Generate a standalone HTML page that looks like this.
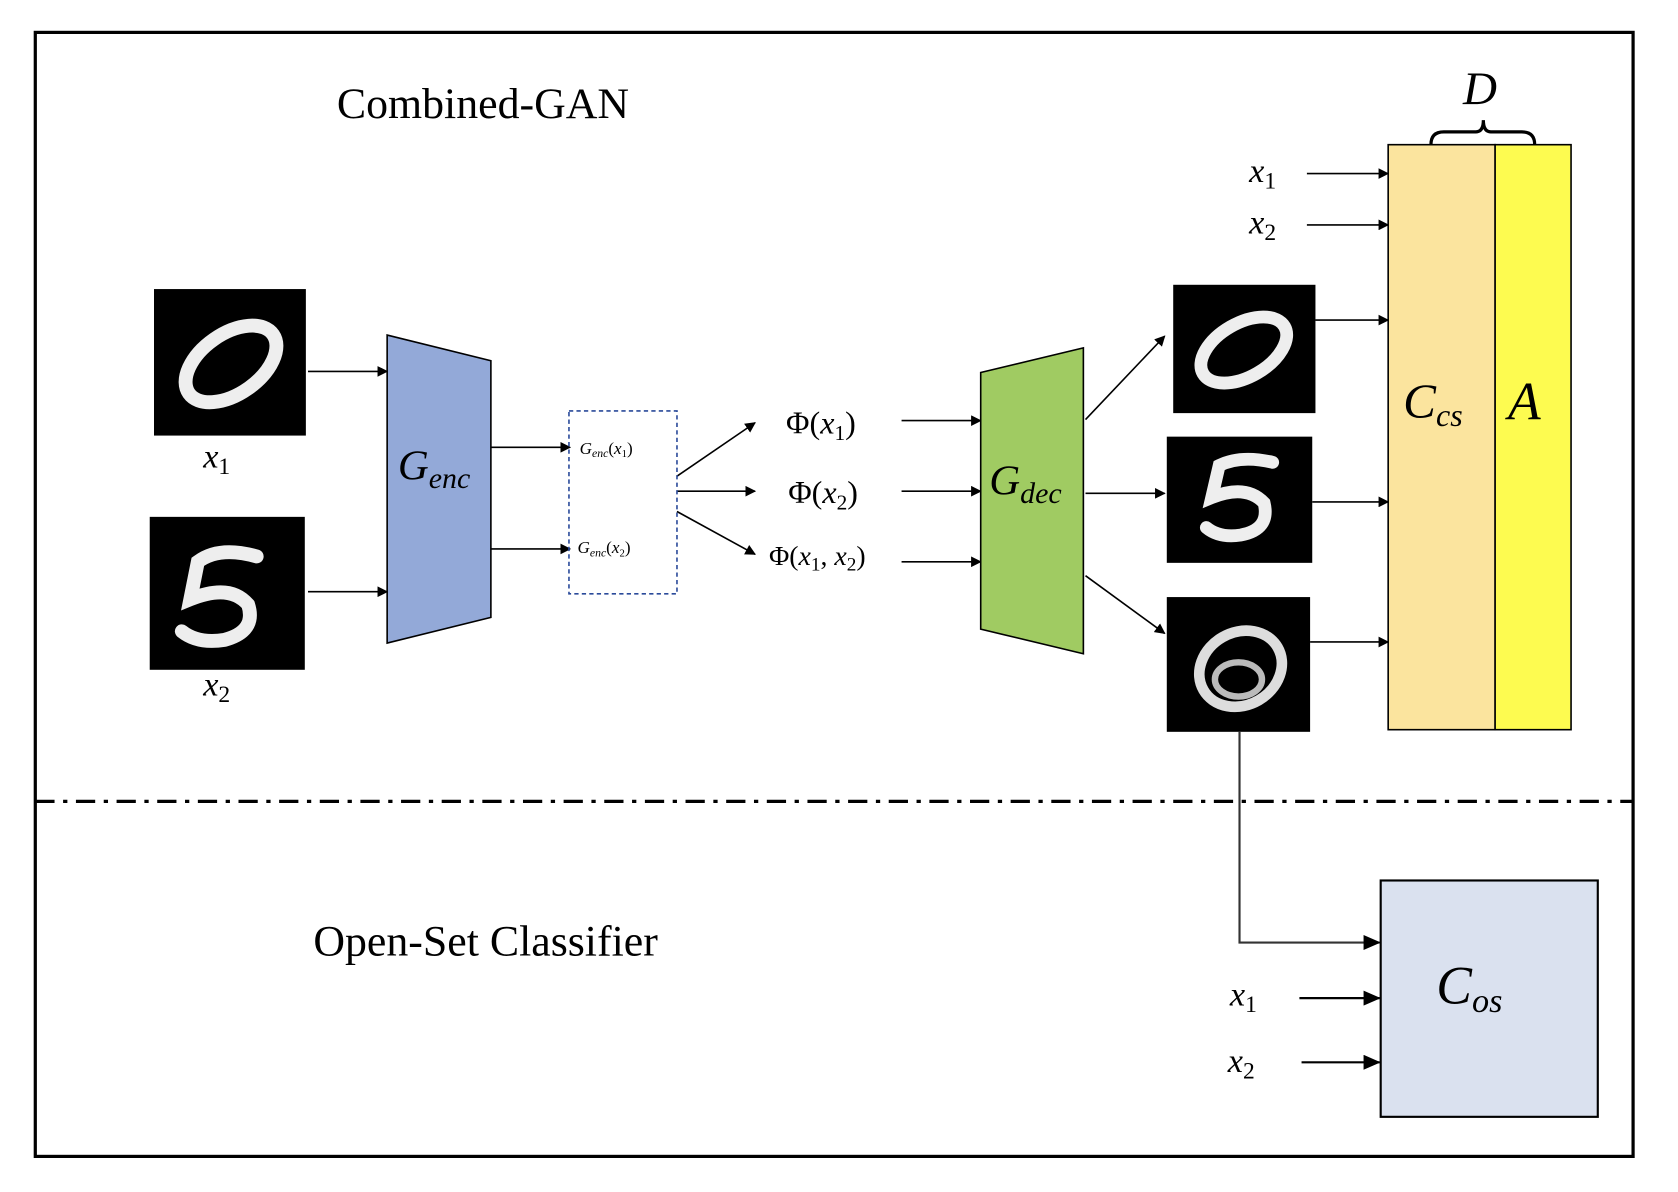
<!DOCTYPE html>
<html><head><style>html,body{margin:0;padding:0;background:#fff}svg{display:block}
text{font-family:"Liberation Serif",serif}</style></head><body>
<svg width="1678" height="1192" viewBox="0 0 1569 1114" xmlns="http://www.w3.org/2000/svg">
<defs><marker id="a" markerWidth="10" markerHeight="10" refX="9" refY="5" orient="auto" markerUnits="userSpaceOnUse"><path d="M0,0 L10,5 L0,10 z" fill="#000"/></marker>
<marker id="b" markerWidth="16" markerHeight="14" refX="15" refY="7" orient="auto" markerUnits="userSpaceOnUse"><path d="M0,0 L16,7 L0,14 z" fill="#000"/></marker></defs>
<rect x="33" y="30" width="1494" height="1051" fill="none" stroke="#000" stroke-width="3"/>
<text x="315" y="110" font-size="41">Combined-GAN</text>
<line x1="33" y1="749" x2="1527" y2="749" stroke="#000" stroke-width="3" stroke-dasharray="18,8,4,8"/>
<text x="293" y="893" font-size="41">Open-Set Classifier</text>
<rect x="144" y="270" width="142" height="137" fill="#000"/>
<ellipse cx="216" cy="340" rx="48" ry="28" transform="rotate(-35 216 340)" fill="none" stroke="#eee" stroke-width="13"/>
<text x="190" y="437" font-size="32" font-style="italic">x<tspan font-size="22" font-style="normal" dy="6">1</tspan></text>
<rect x="140" y="483" width="145" height="143" fill="#000"/>
<path d="M240,520 Q205,510 185,525 L178,560 Q215,545 232,565 Q240,590 210,598 Q185,602 170,590" fill="none" stroke="#eee" stroke-width="13" stroke-linecap="round"/>
<text x="190" y="650" font-size="32" font-style="italic">x<tspan font-size="22" font-style="normal" dy="6">2</tspan></text>
<g stroke="#000" stroke-width="1.5" marker-end="url(#a)" fill="none">
<line x1="288" y1="347" x2="362" y2="347"/><line x1="288" y1="553" x2="362" y2="553"/>
<line x1="459" y1="418" x2="533" y2="418"/><line x1="459" y1="513" x2="533" y2="513"/>
<line x1="633" y1="445" x2="706" y2="395"/><line x1="633" y1="459" x2="706" y2="459"/><line x1="633" y1="478" x2="706" y2="518"/>
<line x1="843" y1="393" x2="917" y2="393"/><line x1="843" y1="459" x2="917" y2="459"/><line x1="843" y1="525" x2="917" y2="525"/>
<line x1="1015" y1="392" x2="1089" y2="314"/><line x1="1015" y1="461" x2="1089" y2="461"/><line x1="1015" y1="538" x2="1089" y2="592"/>
<line x1="1230" y1="299" x2="1298" y2="299"/><line x1="1227" y1="469" x2="1298" y2="469"/><line x1="1225" y1="600" x2="1298" y2="600"/>
<line x1="1222" y1="162" x2="1298" y2="162"/><line x1="1222" y1="210" x2="1298" y2="210"/>
</g>
<polygon points="362,313 459,337 459,577 362,601" fill="#93a9d8" stroke="#000" stroke-width="1.5"/>
<text x="372" y="448" font-size="40" font-style="italic">G<tspan font-size="28" dy="8">enc</tspan></text>
<rect x="532" y="384" width="101" height="171" fill="none" stroke="#2a4a9a" stroke-width="1.5" stroke-dasharray="4,3"/>
<text x="542" y="424" font-size="16" font-style="italic">G<tspan font-size="11" dy="3">enc</tspan><tspan dy="-3" font-style="normal">(</tspan>x<tspan font-size="10" font-style="normal" dy="3">1</tspan><tspan dy="-3" font-style="normal">)</tspan></text>
<text x="540" y="517" font-size="16" font-style="italic">G<tspan font-size="11" dy="3">enc</tspan><tspan dy="-3" font-style="normal">(</tspan>x<tspan font-size="10" font-style="normal" dy="3">2</tspan><tspan dy="-3" font-style="normal">)</tspan></text>
<text x="735" y="405" font-size="30">Φ(<tspan font-style="italic">x</tspan><tspan font-size="20" dy="6">1</tspan><tspan dy="-6">)</tspan></text>
<text x="737" y="470" font-size="30">Φ(<tspan font-style="italic">x</tspan><tspan font-size="20" dy="6">2</tspan><tspan dy="-6">)</tspan></text>
<text x="719" y="528" font-size="26">Φ(<tspan font-style="italic">x</tspan><tspan font-size="18" dy="5">1</tspan><tspan dy="-5">, </tspan><tspan font-style="italic">x</tspan><tspan font-size="18" dy="5">2</tspan><tspan dy="-5">)</tspan></text>
<polygon points="917,348 1013,325 1013,611 917,588" fill="#a0cb62" stroke="#000" stroke-width="1.5"/>
<text x="925" y="462" font-size="40" font-style="italic">G<tspan font-size="28" dy="8">dec</tspan></text>
<rect x="1097" y="266" width="133" height="120" fill="#000"/>
<ellipse cx="1163" cy="327" rx="44" ry="25" transform="rotate(-30 1163 327)" fill="none" stroke="#eee" stroke-width="12"/>
<rect x="1091" y="408" width="136" height="118" fill="#000"/>
<path d="M1190,432 Q1160,425 1140,435 L1133,465 Q1165,452 1182,470 Q1188,495 1160,500 Q1140,503 1128,493" fill="none" stroke="#eee" stroke-width="12" stroke-linecap="round"/>
<rect x="1091" y="558" width="134" height="126" fill="#000"/>
<ellipse cx="1160" cy="625" rx="40" ry="34" transform="rotate(-30 1160 625)" fill="none" stroke="#ddd" stroke-width="10"/>
<ellipse cx="1158" cy="635" rx="22" ry="16" fill="none" stroke="#bbb" stroke-width="6"/>
<rect x="1298" y="135" width="100" height="547" fill="#fbe49e" stroke="#000" stroke-width="1.5"/>
<rect x="1398" y="135" width="71" height="547" fill="#fdfb50" stroke="#000" stroke-width="1.5"/>
<text x="1312" y="390" font-size="46" font-style="italic">C<tspan font-size="30" dy="8">cs</tspan></text>
<text x="1410" y="392" font-size="50" font-style="italic">A</text>
<path d="M1338,135 Q1338,123 1350,123 L1380,123 Q1387,123 1387,112 Q1387,123 1394,123 L1423,123 Q1435,123 1435,135" fill="none" stroke="#000" stroke-width="3"/>
<text x="1368" y="97" font-size="44" font-style="italic">D</text>
<text x="1168" y="170" font-size="32" font-style="italic">x<tspan font-size="22" font-style="normal" dy="6">1</tspan></text>
<text x="1168" y="218" font-size="32" font-style="italic">x<tspan font-size="22" font-style="normal" dy="6">2</tspan></text>
<rect x="1291" y="823" width="203" height="221" fill="#dae1ef" stroke="#000" stroke-width="2"/>
<text x="1343" y="938" font-size="50" font-style="italic">C<tspan font-size="32" dy="8">os</tspan></text>
<polyline points="1159,684 1159,881 1290,881" fill="none" stroke="#333" stroke-width="2" marker-end="url(#b)"/>
<line x1="1215" y1="933" x2="1290" y2="933" stroke="#000" stroke-width="2" marker-end="url(#b)"/>
<line x1="1217" y1="993" x2="1290" y2="993" stroke="#000" stroke-width="2" marker-end="url(#b)"/>
<text x="1150" y="940" font-size="32" font-style="italic">x<tspan font-size="22" font-style="normal" dy="6">1</tspan></text>
<text x="1148" y="1002" font-size="32" font-style="italic">x<tspan font-size="22" font-style="normal" dy="6">2</tspan></text>
</svg>
</body></html>
